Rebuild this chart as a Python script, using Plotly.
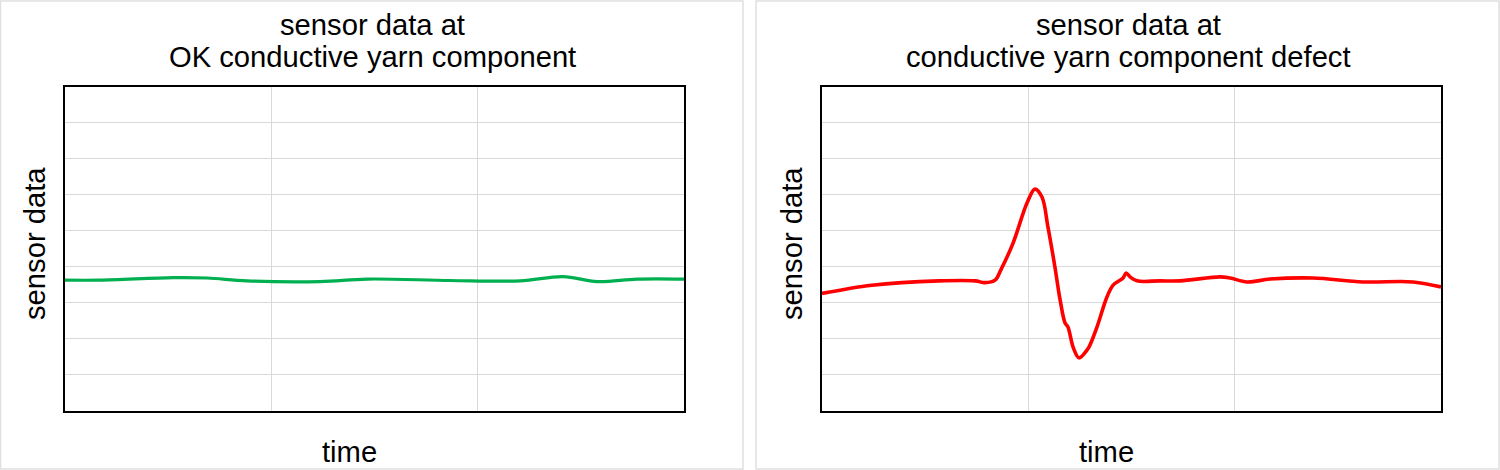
import plotly.graph_objects as go

# Data (x in time units 0..3, y in sensor units 0..9)
ok_time = [0, 0.17, 0.524, 0.688, 0.882, 1.236, 1.464, 1.866, 2.206, 2.414, 2.579, 2.773, 3.0]
ok_values = [3.63, 3.63, 3.70, 3.69, 3.61, 3.59, 3.66, 3.62, 3.61, 3.73, 3.59, 3.66, 3.66]

defect_time = [0, 0.242, 0.567, 0.742, 0.790, 0.839, 0.868, 0.926, 0.994, 1.032, 1.066,
               1.095, 1.129, 1.154, 1.178, 1.192, 1.217, 1.246, 1.285, 1.299, 1.333, 1.381,
               1.411, 1.459, 1.474, 1.493, 1.527, 1.638, 1.735, 1.929, 1.978, 2.060, 2.172,
               2.380, 2.622, 2.865, 3.0]
defect_values = [3.26, 3.49, 3.61, 3.61, 3.56, 3.63, 3.93, 4.66, 5.78, 6.16, 5.94,
                 5.11, 3.99, 3.08, 2.44, 2.33, 1.77, 1.47, 1.69, 1.83, 2.33, 3.16,
                 3.49, 3.69, 3.83, 3.72, 3.61, 3.61, 3.61, 3.72, 3.69, 3.58, 3.66,
                 3.69, 3.58, 3.58, 3.44]

title_line1 = ["sensor data at", "sensor data at"]
title_line2 = ["OK conductive yarn component", "conductive yarn component defect"]
x_label = "time"
y_label = "sensor data"

W, H = 1500, 470
FONT = "Liberation Sans, Arial, sans-serif"
FS = 29.2

fig = go.Figure()
fig.add_trace(go.Scatter(x=ok_time, y=ok_values, mode="lines", line=dict(color="#00b050", width=3.2, shape="spline"),
                         xaxis="x", yaxis="y", showlegend=False))
fig.add_trace(go.Scatter(x=defect_time, y=defect_values, mode="lines", line=dict(color="#ff0000", width=3.6, shape="spline"),
                         xaxis="x2", yaxis="y2", showlegend=False))

ydom = [(H - 410.7) / H, (H - 87) / H]
axis_common = dict(showticklabels=False, ticks="", showgrid=True, gridcolor="#d9d9d9", gridwidth=1,
                   showline=True, linecolor="#000000", linewidth=1.6, mirror=True, zeroline=False,
                   fixedrange=True)

fig.update_layout(
    width=W, height=H,
    margin=dict(l=0, r=0, t=0, b=0),
    paper_bgcolor="white", plot_bgcolor="white",
    font=dict(family=FONT, color="black"),
    xaxis=dict(domain=[65 / W, 684 / W], range=[0, 3], dtick=1, anchor="y", **axis_common),
    yaxis=dict(domain=ydom, range=[0, 9], dtick=1, anchor="x", **axis_common),
    xaxis2=dict(domain=[822 / W, 1441 / W], range=[0, 3], dtick=1, anchor="y2", **axis_common),
    yaxis2=dict(domain=ydom, range=[0, 9], dtick=1, anchor="x2", **axis_common),
)

# panel borders
for x0, x1 in [(0.5, 743), (756, 1499)]:
    fig.add_shape(type="rect", xref="paper", yref="paper", x0=x0 / W, x1=x1 / W, y0=1 / H, y1=(H - 1) / H,
                  line=dict(color="#e0e0e0", width=1.5), fillcolor="rgba(0,0,0,0)", layer="below")

anns = []
for i, (cx, tx, lx) in enumerate([(372, 349, 35), (1128, 1106, 792)]):
    fnt = dict(size=FS, family=FONT, color="black")
    anns.append(dict(text=title_line1[i], x=cx / W, y=(H - 25) / H, xref="paper", yref="paper", showarrow=False,
                     xanchor="center", yanchor="middle", font=fnt))
    anns.append(dict(text=title_line2[i], x=cx / W, y=(H - 57) / H, xref="paper", yref="paper", showarrow=False,
                     xanchor="center", yanchor="middle", font=fnt))
    anns.append(dict(text=x_label, x=tx / W, y=(H - 452) / H, xref="paper", yref="paper", showarrow=False,
                     xanchor="center", yanchor="middle", font=fnt))
    anns.append(dict(text=y_label, x=lx / W, y=(H - 244) / H, xref="paper", yref="paper", showarrow=False,
                     textangle=-90, xanchor="center", yanchor="middle", font=fnt))
fig.update_layout(annotations=anns)

fig.write_html("out.html", config=dict(displayModeBar=False),
               post_script="document.body.style.margin='0';document.body.style.overflow='hidden';")
